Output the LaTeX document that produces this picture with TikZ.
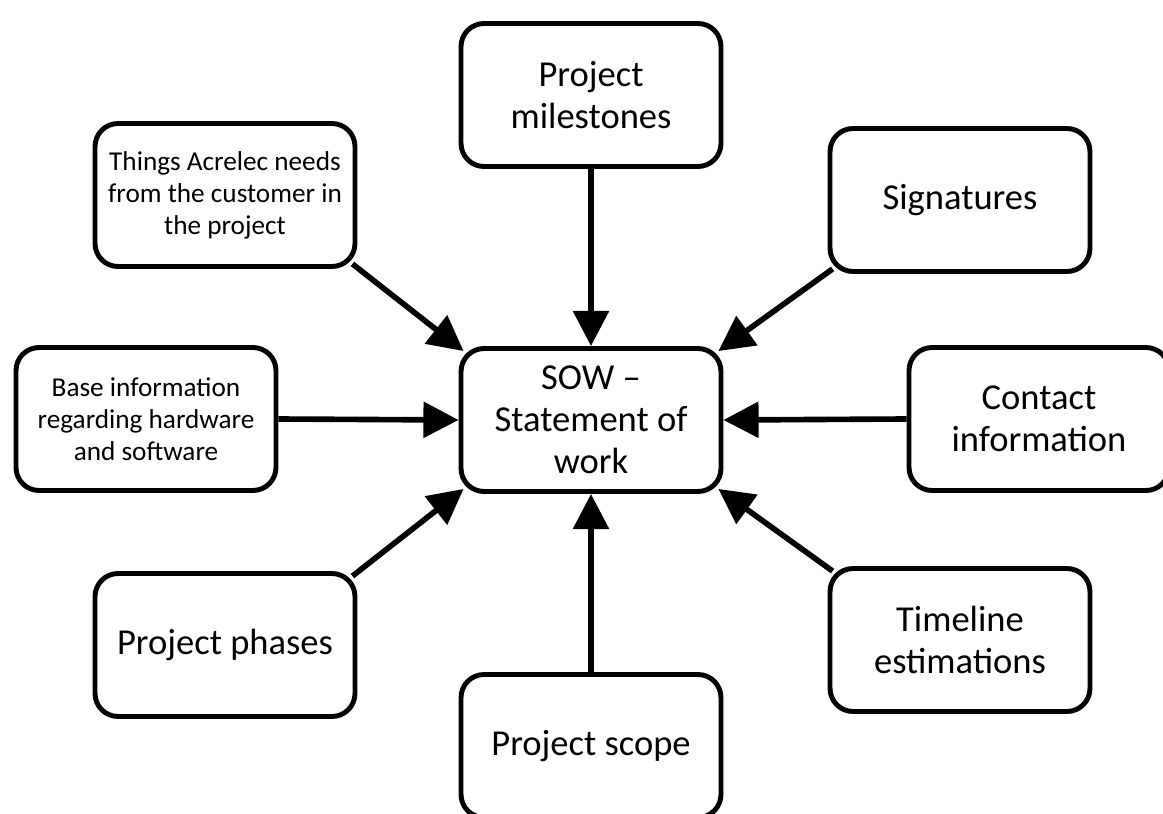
\documentclass[tikz,border=0pt]{standalone}
\usepackage{fontspec}
\setmainfont{Carlito}
\usetikzlibrary{arrows.meta,calc}
\begin{document}
\begin{tikzpicture}[x=0.02cm,y=-0.02cm,
  box/.style={draw, line width=2.8pt, rounded corners=0.46cm, fill=white,
    minimum width=5.2cm, minimum height=2.86cm, align=center, inner sep=0pt,
    font=\fontsize{20.8}{24}\selectfont},
  smalltext/.style={font=\fontsize{15.5}{18.2}\selectfont},
  arr/.style={line width=3.2pt, -{Triangle[length=20pt,width=20pt]}}]
\clip (0,0) rectangle (1163,814);
\fill[white] (0,0) rectangle (1163,814);

\node[box] (sow) at (591,420) {SOW --\\Statement of\\work};
\node[box] (mile) at (591,95) {Project\\milestones};
\node[box,smalltext] (things) at (225,195) {Things Acrelec needs\\from the customer in\\the project};
\node[box] (sig) at (960,200) {Signatures};
\node[box,smalltext] (base) at (146,419) {Base information\\regarding hardware\\and software};
\node[box] (contact) at (1039,419) {Contact\\information};
\node[box] (phases) at (225,645) {Project phases};
\node[box] (scope) at (591,746) {Project scope};
\node[box] (time) at (960,640) {Timeline\\estimations};

\draw[arr] (mile.south) -- (sow.north);
\draw[arr] (scope.north) -- (sow.south);
\draw[arr] (base.east) -- (sow.west);
\draw[arr] (contact.west) -- (sow.east);
\draw[arr] ($(things.south east)+(-5,-5)$) -- ($(sow.north west)+(5,5)$);
\draw[arr] ($(sig.south west)+(5,-5)$) -- ($(sow.north east)+(-5,5)$);
\draw[arr] ($(phases.north east)+(-5,5)$) -- ($(sow.south west)+(5,-5)$);
\draw[arr] ($(time.north west)+(5,5)$) -- ($(sow.south east)+(-5,-5)$);
\end{tikzpicture}
\end{document}
